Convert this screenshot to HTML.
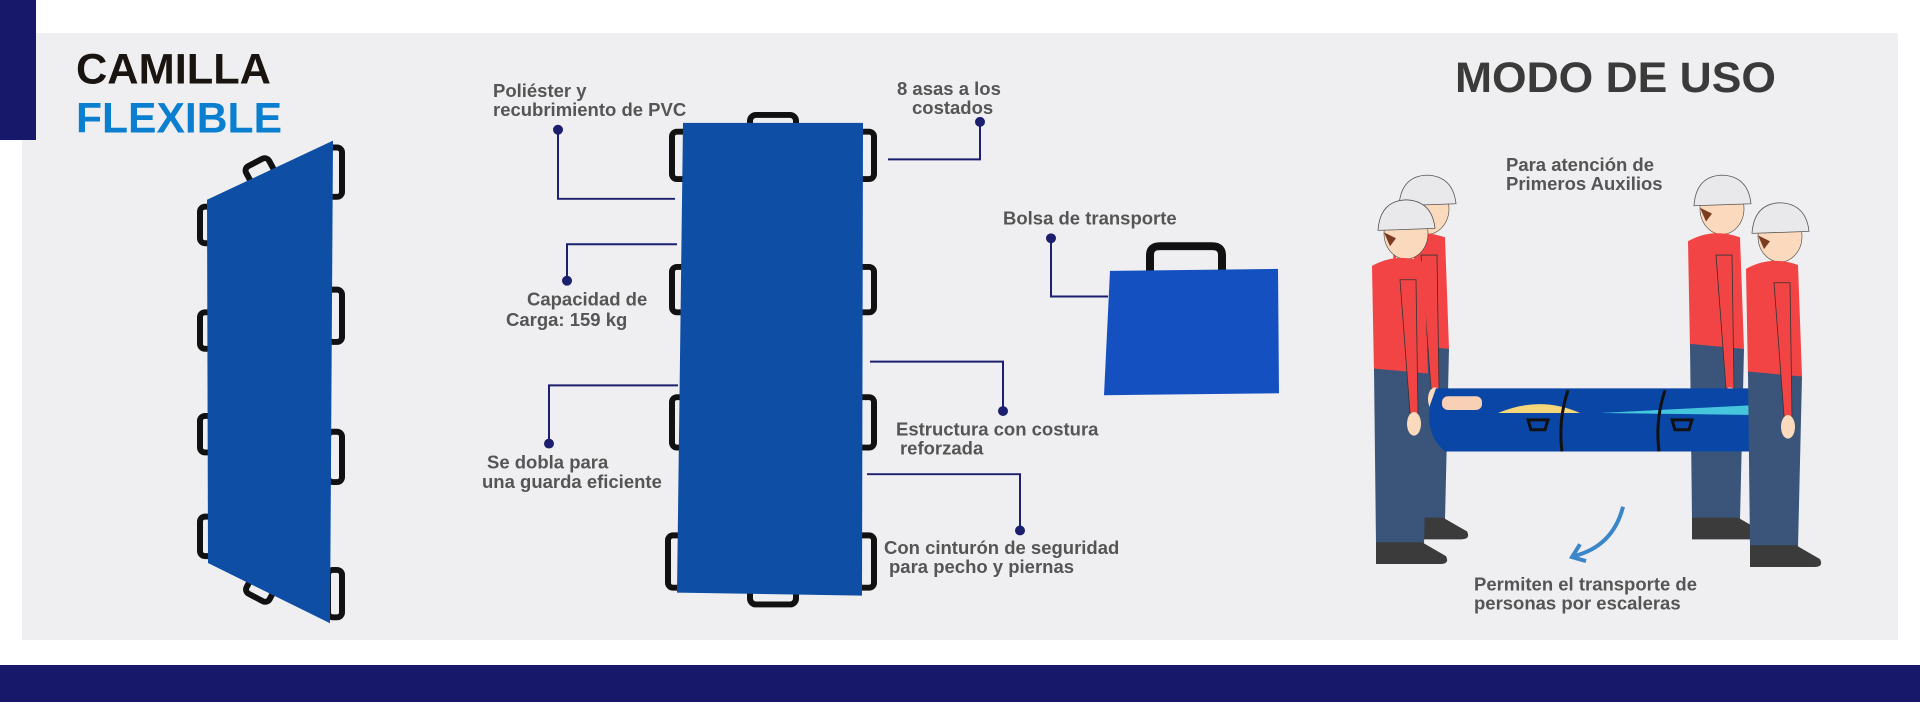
<!DOCTYPE html>
<html><head><meta charset="utf-8"><style>
html,body{margin:0;padding:0;background:#fff;}
svg{display:block;}
text{font-family:"Liberation Sans",sans-serif;}
.l{font-size:18.5px;font-weight:bold;fill:#555;}
</style></head><body>
<svg width="1920" height="720" viewBox="0 0 1920 720" xmlns="http://www.w3.org/2000/svg">
<rect x="0" y="0" width="1920" height="720" fill="#fff"/>
<rect x="22" y="33" width="1876" height="607" fill="#efeff1"/>
<rect x="0" y="0" width="36" height="140" fill="#18186a"/>
<rect x="0" y="665" width="1920" height="37" fill="#18186a"/>

<g transform="translate(0,0.43) scale(1,0.987)">
<text x="76" y="84" font-size="43" font-weight="bold" fill="#1a1410" textLength="195" lengthAdjust="spacingAndGlyphs">CAMILLA</text>
<text x="76" y="134" font-size="43" font-weight="bold" fill="#0a7fd0" textLength="206" lengthAdjust="spacingAndGlyphs">FLEXIBLE</text>
<text x="1455" y="93" font-size="43" font-weight="bold" fill="#3a3a3a" textLength="321" lengthAdjust="spacingAndGlyphs">MODO DE USO</text>

<g fill="none" stroke="#111" stroke-width="6">
<rect x="200" y="209" width="14" height="37" rx="5"/>
<rect x="200" y="316" width="14" height="37" rx="5"/>
<rect x="200" y="421" width="14" height="37" rx="5"/>
<rect x="200" y="523" width="14" height="40" rx="5"/>
<rect x="328" y="149" width="14" height="50" rx="5"/>
<rect x="328" y="293" width="14" height="53" rx="5"/>
<rect x="328" y="437" width="14" height="51" rx="5"/>
<rect x="328" y="577" width="14" height="48" rx="5"/>
<rect x="247" y="163" width="26" height="20" rx="5" transform="rotate(-28 260 173)"/>
<rect x="247" y="588" width="26" height="18" rx="5" transform="rotate(28 260 597)"/>
</g>
<polygon points="207,202 333,142 330,631 208,570" fill="#0e4fa5"/>

<g fill="none" stroke="#111" stroke-width="6">
<rect x="750" y="116" width="46" height="20" rx="6"/>
<rect x="750" y="592" width="46" height="20" rx="6"/>
<rect x="672" y="133" width="16" height="48" rx="5"/>
<rect x="672" y="270" width="16" height="46" rx="5"/>
<rect x="672" y="402" width="16" height="51" rx="5"/>
<rect x="668" y="542" width="16" height="53" rx="5"/>
<rect x="858" y="133" width="16" height="48" rx="5"/>
<rect x="858" y="270" width="16" height="46" rx="5"/>
<rect x="858" y="402" width="16" height="51" rx="5"/>
<rect x="858" y="542" width="16" height="53" rx="5"/>
</g>
<polygon points="683,124 863,124 862,603 677,600" fill="#0e4fa5"/>

<g fill="none" stroke="#1c1f6e" stroke-width="2">
<polyline points="558,131 558,201 675,201"/>
<polyline points="567,284 567,247 677,247"/>
<polyline points="549,449 549,390 678,390"/>
<polyline points="980,123 980,161 888,161"/>
<polyline points="1003,416 1003,366 870,366"/>
<polyline points="1020,537 1020,480 867,480"/>
<polyline points="1051,241 1051,300 1108,300"/>
</g>
<g fill="#1c1f6e">
<circle cx="558" cy="131" r="5"/><circle cx="567" cy="284" r="5"/><circle cx="549" cy="449" r="5"/>
<circle cx="980" cy="123" r="5"/><circle cx="1003" cy="416" r="5"/><circle cx="1020" cy="537" r="5"/><circle cx="1051" cy="241" r="5"/>
</g>

<text class="l" x="493" y="98">Poliéster y</text>
<text class="l" x="493" y="117">recubrimiento de PVC</text>
<text class="l" x="897" y="96">8 asas a los</text>
<text class="l" x="912" y="115">costados</text>
<text class="l" x="527" y="309">Capacidad de</text>
<text class="l" x="506" y="330">Carga: 159 kg</text>
<text class="l" x="487" y="474">Se dobla para</text>
<text class="l" x="482" y="494">una guarda eficiente</text>
<text class="l" x="896" y="441">Estructura con costura</text>
<text class="l" x="900" y="460">reforzada</text>
<text class="l" x="884" y="561">Con cinturón de seguridad</text>
<text class="l" x="889" y="580">para pecho y piernas</text>
<text class="l" x="1003" y="227">Bolsa de transporte</text>
<text class="l" x="1506" y="173">Para atención de</text>
<text class="l" x="1506" y="192">Primeros Auxilios</text>
<text class="l" x="1474" y="598">Permiten el transporte de</text>
<text class="l" x="1474" y="617">personas por escaleras</text>

<path d="M1150,283 L1150,258 Q1150,249 1160,249 L1212,249 Q1222,249 1222,258 L1222,283" fill="none" stroke="#111" stroke-width="8"/>
<path d="M1110,274 L1278,272 L1279,398 L1104,400 Z" fill="#1550c0"/>

<path d="M1623,513 Q1613,553 1574,563" fill="none" stroke="#3a86c8" stroke-width="4"/>
<path d="M1580,551 L1572,564 L1586,568" fill="none" stroke="#3a86c8" stroke-width="4"/>

<defs>
<g id="p">
 <rect x="-8" y="18" width="18" height="14" fill="#fbd9bd"/>
 <ellipse cx="2" cy="3" rx="22" ry="26" fill="#fbd9bd" stroke="#444" stroke-width="0.6"/>
 <path d="M-26,0 Q-24,-30 2,-31 Q28,-30 31,-2 Z" fill="#e9e9eb" stroke="#555" stroke-width="0.8"/>
 <path d="M-20,2 L-14,16 L-8,8 Z" fill="#7a3b20"/>
 <path d="M-32,36 Q-8,22 20,32 L24,145 L-30,145 Z" fill="#f24444"/>
 <path d="M-30,140 L24,145 L20,318 L-28,318 Z" fill="#3a5579"/>
 <path d="M-28,316 L18,316 L42,330 Q46,338 36,338 L-28,338 Z" fill="#3b3b3b"/>
 <path d="M-4,50 L6,185 L14,186 L12,50 Z" fill="#f24444" stroke="#333" stroke-width="0.8"/>
 <ellipse cx="10" cy="196" rx="7" ry="12" fill="#fbd9bd"/>
</g>
</defs>
<use href="#p" x="1425" y="208"/>
<use href="#p" x="1720" y="208"/>
<path d="M1436,393 L1762,393 L1762,457 L1445,457 Q1425,440 1430,410 Z" fill="#0a46a6"/>
<path d="M1498,418 Q1540,400 1580,418 Z" fill="#f6d67a"/>
<path d="M1600,418 L1755,410 L1755,420 Z" fill="#45c6dc"/>
<rect x="1442" y="401" width="40" height="14" rx="6" fill="#f7d0b5"/>
<g fill="none" stroke="#111" stroke-width="3">
<path d="M1568,395 Q1558,425 1562,457"/><path d="M1665,395 Q1655,425 1659,457"/>
<path d="M1528,425 L1548,425 L1545,435 L1531,435 Z"/><path d="M1672,425 L1692,425 L1689,435 L1675,435 Z"/>
</g>
<use href="#p" x="1404" y="233"/>
<use href="#p" x="1778" y="236"/>
</g>
</svg>
</body></html>
